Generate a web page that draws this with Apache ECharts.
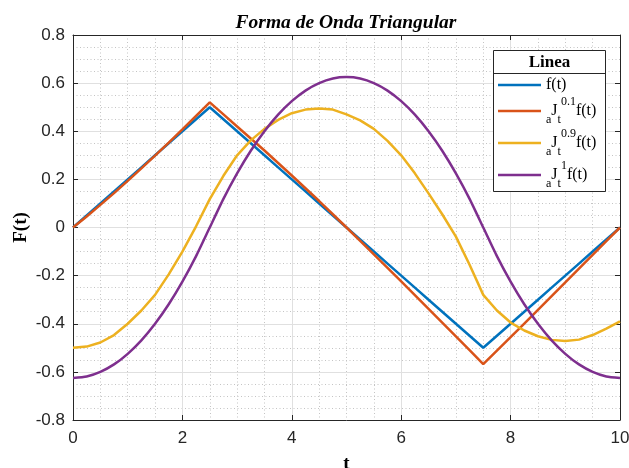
<!DOCTYPE html>
<html>
<head>
<meta charset="utf-8">
<script src="https://cdn.jsdelivr.net/npm/echarts@6/dist/echarts.min.js"></script>
<style>
  html, body { margin: 0; padding: 0; background: #fff; }
  #chart { width: 629px; height: 468px; }
</style>
</head>
<body>
<div id="chart"></div>
<script>
// Sample times (s)
const tValues = [0, 0.25, 0.5, 0.75, 1, 1.25, 1.5, 1.75, 2, 2.25, 2.5,
  2.75, 3, 3.25, 3.5, 3.75, 4, 4.25, 4.5, 4.75, 5,
  5.25, 5.5, 5.75, 6, 6.25, 6.5, 6.75, 7, 7.25, 7.5,
  7.75, 8, 8.25, 8.5, 8.75, 9, 9.25, 9.5, 9.75, 10];

// Triangular wave f(t)
const fWave = [0, 0.05, 0.1, 0.15, 0.2, 0.25, 0.3, 0.35, 0.4, 0.45, 0.5,
  0.45, 0.4, 0.35, 0.3, 0.25, 0.2, 0.15, 0.1, 0.05, 0,
  -0.05, -0.1, -0.15, -0.2, -0.25, -0.3, -0.35, -0.4, -0.45, -0.5,
  -0.45, -0.4, -0.35, -0.3, -0.25, -0.2, -0.15, -0.1, -0.05, 0];

// Fractional integral, order 0.1
const int01 = [0, 0.046, 0.094, 0.143, 0.194, 0.246, 0.299, 0.353, 0.408, 0.464, 0.52,
  0.47, 0.42, 0.37, 0.32, 0.268, 0.216, 0.163, 0.11, 0.055, 0,
  -0.056, -0.112, -0.168, -0.224, -0.281, -0.338, -0.395, -0.452, -0.51, -0.568,
  -0.512, -0.456, -0.399, -0.342, -0.285, -0.228, -0.171, -0.114, -0.057, 0];

// Fractional integral, order 0.9
const int09 = [-0.5, -0.495, -0.478, -0.447, -0.4, -0.345, -0.28, -0.195, -0.1, 0.005, 0.118,
  0.215, 0.3, 0.362, 0.41, 0.447, 0.475, 0.49, 0.495, 0.49, 0.47,
  0.445, 0.41, 0.36, 0.3, 0.225, 0.142, 0.055, -0.038, -0.155, -0.28,
  -0.345, -0.395, -0.428, -0.452, -0.467, -0.472, -0.466, -0.447, -0.42, -0.39];

// Integral, order 1
const int1 = [-0.625, -0.619, -0.6, -0.569, -0.525, -0.469, -0.4, -0.319, -0.225, -0.119, 0,
  0.119, 0.225, 0.319, 0.4, 0.469, 0.525, 0.569, 0.6, 0.619, 0.625,
  0.619, 0.6, 0.569, 0.525, 0.469, 0.4, 0.319, 0.225, 0.119, 0,
  -0.119, -0.225, -0.319, -0.4, -0.469, -0.525, -0.569, -0.6, -0.619, -0.625];

const seriesNames = ['f(t)', 'aJt 0.1 f(t)', 'aJt 0.9 f(t)', 'aJt 1 f(t)'];
// Rich-text legend labels: a (sub), J, t (sub), order (sup), f(t)
const legendLabels = [
  '{f|f(t)}',
  '{s|a}{m|J}{s|t}{p|0.1}{m|f(t)}',
  '{s|a}{m|J}{s|t}{p|0.9}{m|f(t)}',
  '{s|a}{m|J}{s|t}{p|1}{m|f(t)}'
];
const seriesColors = ['#0072BD', '#D95319', '#EDB120', '#7E2F8E'];
const seriesValues = [fWave, int01, int09, int1];
const seriesSmooth = [false, false, false, 0.2];

const xTicks = { min: 0, max: 10, step: 2 };
const yTicks = { min: -0.8, max: 0.8, step: 0.2 };

const SANS = 'Liberation Sans, Arial, Helvetica, sans-serif';
const SERIF = 'Liberation Serif, Times New Roman, serif';
const AXIS_COLOR = '#262626';

function pairs(values) {
  return tValues.map((t, i) => [t, values[i]]);
}

const chart = echarts.init(document.getElementById('chart'), null, { renderer: 'canvas' });

const majorGrid = { show: true, lineStyle: { color: '#e0e0e0', width: 1 } };
const minorGrid = { show: true, lineStyle: { color: '#c4c4c4', width: 1, type: [1, 2.5] } };

function baseAxis(range, extra) {
  return Object.assign({
    type: 'value',
    min: range.min,
    max: range.max,
    interval: range.step,
    axisLine: { show: true, onZero: false, lineStyle: { color: AXIS_COLOR, width: 1 } },
    axisTick: { show: true, inside: true, length: 5, lineStyle: { color: AXIS_COLOR, width: 1 } },
    minorTick: { show: false, splitNumber: 4 }
  }, extra);
}

const option = {
  backgroundColor: '#ffffff',
  animation: false,
  title: {
    text: 'Forma de Onda Triangular',
    left: 341,
    textAlign: 'center',
    top: 8,
    textStyle: { fontFamily: SERIF, fontSize: 19.5, fontWeight: 'bold', fontStyle: 'italic', color: '#000' }
  },
  grid: { left: 73, right: 9, top: 35, bottom: 48, containLabel: false, outerBoundsMode: 'none' },
  xAxis: [
    baseAxis(xTicks, {
      position: 'bottom',
      axisLabel: { margin: 10, fontFamily: SANS, fontSize: 17, color: AXIS_COLOR },
      splitLine: majorGrid,
      minorSplitLine: minorGrid,
      name: 't',
      nameLocation: 'middle',
      nameGap: 35,
      nameTextStyle: { fontFamily: SERIF, fontSize: 19, fontWeight: 'bold', color: '#000' }
    }),
    baseAxis(xTicks, {
      position: 'top',
      axisLabel: { show: false },
      splitLine: { show: false }
    })
  ],
  yAxis: [
    baseAxis(yTicks, {
      position: 'left',
      axisLabel: { margin: 8, fontFamily: SANS, fontSize: 17, color: AXIS_COLOR },
      splitLine: majorGrid,
      minorSplitLine: minorGrid,
      name: 'F(t)',
      nameLocation: 'middle',
      nameMoveOverlap: false,
      nameGap: 42,
      nameTextStyle: { fontFamily: SERIF, fontSize: 19, fontWeight: 'bold', color: '#000' }
    }),
    baseAxis(yTicks, {
      position: 'right',
      axisLabel: { show: false },
      splitLine: { show: false }
    })
  ],
  legend: {
    orient: 'vertical',
    left: 498,
    top: 76,
    padding: 0,
    itemGap: 2,
    itemWidth: 43,
    itemHeight: 2.5,
    icon: 'rect',
    selectedMode: false,
    z: 20,
    data: seriesNames,
    formatter: name => legendLabels[seriesNames.indexOf(name)],
    textStyle: {
      fontFamily: SERIF,
      color: '#000',
      rich: {
        f: { fontFamily: SERIF, fontSize: 16, lineHeight: 16, padding: [1, 0, 1, 0], color: '#000' },
        m: { fontFamily: SERIF, fontSize: 16, lineHeight: 30, verticalAlign: 'middle', color: '#000' },
        s: { fontFamily: SERIF, fontSize: 12, lineHeight: 15, verticalAlign: 'bottom', color: '#000' },
        p: { fontFamily: SERIF, fontSize: 12, lineHeight: 24, verticalAlign: 'top', color: '#000' }
      }
    }
  },
  graphic: [
    {
      type: 'rect', z: 10,
      shape: { x: 493.5, y: 50.5, width: 112, height: 141 },
      style: { fill: '#ffffff', stroke: AXIS_COLOR, lineWidth: 1 }
    },
    {
      type: 'line', z: 11,
      shape: { x1: 493.5, y1: 73.5, x2: 605.5, y2: 73.5 },
      style: { stroke: AXIS_COLOR, lineWidth: 1 }
    },
    {
      type: 'text', z: 11,
      x: 549.5, y: 63,
      style: {
        text: 'Linea', fontFamily: SERIF, fontSize: 17, fontWeight: 'bold',
        fill: '#000', textAlign: 'center', textVerticalAlign: 'middle'
      }
    }
  ],
  series: seriesNames.map((name, i) => ({
    name: name,
    type: 'line',
    xAxisIndex: 0,
    yAxisIndex: 0,
    data: pairs(seriesValues[i]),
    symbol: 'none',
    showSymbol: false,
    smooth: seriesSmooth[i],
    color: seriesColors[i],
    lineStyle: { color: seriesColors[i], width: 2.5 },
    z: 2 + i
  }))
};

chart.setOption(option);
</script>
</body>
</html>
